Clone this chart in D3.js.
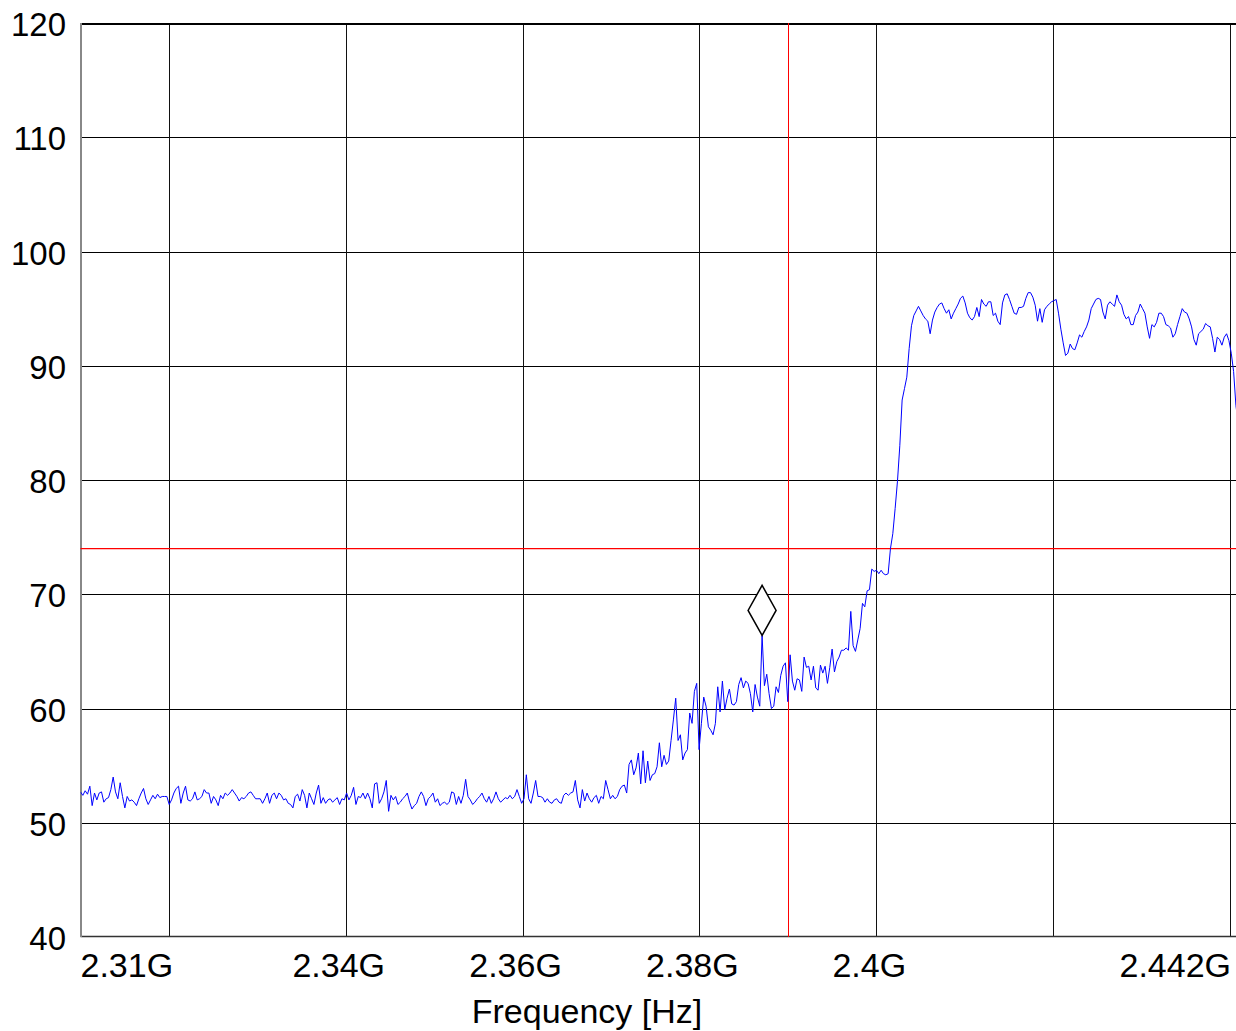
<!DOCTYPE html>
<html>
<head>
<meta charset="utf-8">
<script src="https://cdn.jsdelivr.net/npm/d3@7"></script>
<style>
  html, body { margin: 0; padding: 0; background: #fff; }
  svg { display: block; font-family: "Liberation Sans", Arial, Helvetica, sans-serif; }
</style>
</head>
<body>
<svg id="chart" width="1236" height="1031"></svg>
<script>
// ---- data ----
const startFreq = 2.31e9;
const stopFreq = 2.442e9;
const pointCount = 501;
const yTicks = [40, 50, 60, 70, 80, 90, 100, 110, 120];
const xGrid = [2.32e9, 2.34e9, 2.36e9, 2.38e9, 2.40e9, 2.42e9, 2.44e9];
const xLabelText = ["2.31G", "2.34G", "2.36G", "2.38G", "2.4G", "2.442G"];
const xLabelFreq = [2.31e9, 2.34e9, 2.36e9, 2.38e9, 2.40e9, 2.442e9];
const limitLevel = 74;
const markerLineFreq = 2.39e9;
const xTitle = "Frequency [Hz]";
// measured level trace (one value per sweep point, from start frequency)
const levels = [
52.7,52.4,52.8,52.5,53.2,51.5,52.6,52.0,52.6,52.7,
51.8,52.1,52.2,52.9,54.0,52.7,52.1,53.5,52.3,51.3,
52.3,51.9,52.0,51.8,51.5,52.1,52.6,53.0,52.1,51.6,
52.0,52.4,52.1,52.5,52.2,52.3,52.3,52.3,51.6,52.0,
52.6,53.0,53.2,51.7,52.6,53.2,52.0,51.9,52.1,52.7,
52.0,52.1,52.3,52.9,52.6,52.6,51.7,52.3,52.0,51.5,
52.4,52.1,52.6,52.4,52.6,52.9,52.6,52.3,51.9,52.2,
52.1,52.3,52.6,52.7,52.4,52.1,52.1,52.1,51.7,52.1,
52.6,51.7,52.4,52.6,52.1,52.6,52.4,52.0,52.1,51.7,
51.6,51.3,52.3,52.5,51.9,52.9,52.4,51.3,52.6,52.1,
51.6,52.6,53.3,51.7,52.2,51.7,52.0,52.1,51.8,52.0,
52.2,51.6,52.1,52.0,52.6,52.0,
52.4,53.1,51.6,52.3,52.2,52.6,52.1,52.6,52.1,51.3,
53.4,53.5,51.7,52.1,52.7,53.7,51.0,52.4,52.0,52.3,51.6,
51.8,52.1,52.3,52.6,51.8,51.2,51.5,51.7,52.3,52.7,
52.3,51.5,52.1,52.3,52.6,51.8,52.1,51.5,51.7,51.8,51.6,
51.8,52.7,52.6,51.6,52.3,51.7,52.4,53.8,52.3,52.0,51.6,
51.8,52.1,52.3,52.6,52.1,51.8,52.3,51.7,52.1,52.7,
52.1,51.8,52.0,52.2,52.1,52.4,52.1,52.3,52.9,52.3,51.7,
52.1,54.2,52.1,51.7,52.6,53.7,52.3,52.3,52.2,51.8,
52.1,51.8,51.7,52.0,52.1,51.8,51.7,52.4,52.6,52.4,52.6,
52.7,53.7,52.0,51.3,52.9,51.9,52.6,52.1,51.8,52.2,
52.4,51.7,52.3,52.1,53.7,52.9,52.1,52.4,52.1,52.3,
52.9,53.2,53.3,52.6,55.1,55.5,54.2,54.8,56.1,53.4,
56.3,53.5,55.4,53.7,54.2,54.3,54.9,57.0,54.9,55.9,
55.1,55.4,57.2,59.0,60.9,57.2,57.7,55.5,56.1,56.4,
59.6,58.7,61.5,62.2,56.4,58.7,61.0,60.2,58.4,58.1,
57.7,58.7,61.9,59.7,62.4,59.9,60.9,61.7,60.4,60.3,
60.6,62.1,62.7,61.8,62.4,62.2,61.3,59.7,62.1,61.0,
60.2,66.4,
62.0,63.0,61.3,60.0,60.2,61.9,61.4,62.9,63.7,64.0,
60.6,64.7,62.4,61.6,62.6,62.5,61.5,64.5,63.6,63.7,
62.5,63.7,61.8,61.6,63.8,63.1,63.7,62.2,63.6,65.2,
63.2,64.1,64.5,65.1,65.1,65.3,65.1,68.5,65.5,65.0,
66.0,67.0,69.2,68.9,70.3,70.4,72.2,72.0,72.1,71.8,
72.1,71.8,71.7,71.8,74.0,75.3,77.5,79.9,83.0,87.0,
88.0,89.0,91.5,93.5,94.4,94.8,95.2,94.8,94.4,94.1,
93.9,92.8,94.0,94.7,95.1,95.4,95.5,95.0,94.6,94.9,
94.1,94.6,95.0,95.4,95.9,96.1,95.5,94.6,
94.2,94.0,94.3,95.1,94.3,95.8,95.4,95.2,95.6,95.6,
94.4,94.6,93.9,93.6,95.5,96.2,96.3,95.8,95.2,94.6,
94.5,95.1,95.1,95.2,95.9,96.4,96.4,96.0,95.3,93.9,
95.0,93.8,94.9,95.2,95.4,95.6,95.7,95.8,94.6,93.2,
92.0,90.9,91.1,91.9,91.5,91.4,92.0,92.7,92.5,93.0,
93.4,94.0,95.0,95.4,95.8,95.9,95.8,94.7,94.1,95.3,
95.6,95.4,95.2,96.2,95.6,95.3,94.5,94.1,94.3,93.6,
93.6,94.4,94.7,95.4,95.0,94.6,93.4,92.4,93.6,93.4,
93.8,94.6,94.6,94.3,93.6,93.5,93.3,92.5,92.8,93.6,
94.3,95.0,94.7,94.6,94.1,93.4,92.3,91.8,92.8,93.0,
93.2,93.7,93.5,93.4,92.4,91.2,92.5,92.3,91.8,92.5,
92.8,92.2,91.1,89.5,86.5,85.0
];

// ---- layout ----
const svg = d3.select("#chart");
const W = 1236, H = 1031;
const pLeft = 80.5, pTop = 23, pBottom = 937;
const pRight = 1247.6; // plot continues past the picture edge

const x = d3.scaleLinear().domain([startFreq, stopFreq]).range([pLeft, pRight]);
const y = d3.scaleLinear().domain([40, 120]).range([pBottom, pTop]);
const step = (stopFreq - startFreq) / (pointCount - 1);
const trace = levels.map((v, i) => ({ f: startFreq + i * step, v }));

svg.append("defs").append("clipPath").attr("id", "plotclip")
  .append("rect").attr("x", pLeft).attr("y", pTop - 2).attr("width", pRight - pLeft).attr("height", pBottom - pTop + 4);

// horizontal grid (via y axis)
const yGrid = svg.append("g").attr("transform", `translate(${pLeft},0)`)
  .call(d3.axisLeft(y).tickValues(yTicks.filter(t => t > 40 && t < 120)).tickSize(-(pRight - pLeft)).tickFormat(""));
yGrid.select(".domain").remove();
yGrid.selectAll("line").attr("stroke", "#000").attr("stroke-width", 1).attr("shape-rendering", "crispEdges");

// vertical grid (via x axis)
const xGridG = svg.append("g").attr("transform", `translate(0,${pBottom})`)
  .call(d3.axisBottom(x).tickValues(xGrid).tickSize(-(pBottom - pTop)).tickFormat(""));
xGridG.select(".domain").remove();
xGridG.selectAll("line").attr("stroke", "#111").attr("stroke-width", 1).attr("shape-rendering", "crispEdges");

// top border
svg.append("line").attr("x1", pLeft).attr("x2", W).attr("y1", y(120) + 1).attr("y2", y(120) + 1)
  .attr("stroke", "#000").attr("stroke-width", 2).attr("shape-rendering", "crispEdges");
// bottom axis line
svg.append("line").attr("x1", pLeft).attr("x2", W).attr("y1", y(40) - 0.5).attr("y2", y(40) - 0.5)
  .attr("stroke", "#333").attr("stroke-width", 1.5);
// left axis line
svg.append("line").attr("x1", pLeft + 0.5).attr("x2", pLeft + 0.5).attr("y1", pTop).attr("y2", pBottom)
  .attr("stroke", "#888").attr("stroke-width", 2);

// limit line and marker frequency line
svg.append("line").attr("x1", pLeft).attr("x2", W).attr("y1", y(limitLevel)).attr("y2", y(limitLevel))
  .attr("stroke", "#ff0000").attr("stroke-width", 1.3);
svg.append("line").attr("x1", Math.round(x(markerLineFreq)) + 0.5).attr("x2", Math.round(x(markerLineFreq)) + 0.5)
  .attr("y1", pTop).attr("y2", pBottom)
  .attr("stroke", "#ff0000").attr("stroke-width", 1);

// trace
svg.append("path").datum(trace)
  .attr("clip-path", "url(#plotclip)")
  .attr("fill", "none").attr("stroke", "#0000ff").attr("stroke-width", 1)
  .attr("stroke-linejoin", "round")
  .attr("d", d3.line().x(d => x(d.f)).y(d => y(d.v)));

// peak marker (highest point below the marker line frequency)
const below = trace.filter(d => d.f < markerLineFreq);
const pk = below[d3.maxIndex(below, d => d.v)];
const mx = x(pk.f), my = y(pk.v);
svg.append("path")
  .attr("d", `M${mx},${my} L${mx - 14},${my - 25} L${mx},${my - 50} L${mx + 14},${my - 25} Z`)
  .attr("fill", "#fff").attr("stroke", "#000").attr("stroke-width", 1.5);

// y tick labels
svg.append("g").selectAll("text").data(yTicks).join("text")
  .attr("x", 66).attr("y", d => y(d)).attr("dy", "0.4em")
  .attr("text-anchor", "end").attr("font-size", 33).attr("fill", "#000")
  .text(d => d);

// x tick labels
svg.append("g").selectAll("text").data(xLabelText).join("text")
  .attr("x", (d, i) => i === 0 ? pLeft : (i === xLabelText.length - 1 ? 1231 : x(xLabelFreq[i]) - 7))
  .attr("y", 977)
  .attr("text-anchor", (d, i) => i === 0 ? "start" : (i === xLabelText.length - 1 ? "end" : "middle"))
  .attr("font-size", 34).attr("fill", "#000")
  .text(d => d);

// x title
svg.append("text").attr("x", 587).attr("y", 1023).attr("text-anchor", "middle")
  .attr("font-size", 34).attr("fill", "#000").text(xTitle);
</script>
</body>
</html>
